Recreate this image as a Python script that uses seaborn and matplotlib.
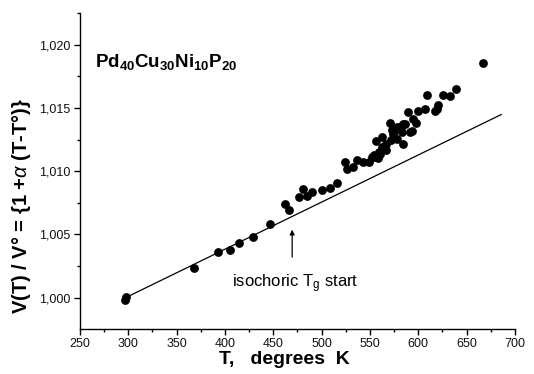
import matplotlib
matplotlib.use("Agg")
import matplotlib.pyplot as plt
import matplotlib.ticker as mticker
import seaborn as sns
import pandas as pd

T_vals = [296.5, 297.6, 368, 393, 404.8, 414, 429, 447, 462, 466, 477, 481, 485, 490,
          500, 508.5, 516, 524, 526, 532, 537, 543, 549, 552, 554, 555, 556, 558, 559,
          560, 562, 562, 564, 567, 567, 570.6, 572, 572.3, 574, 577.5, 577.5, 578, 581,
          582.6, 584, 584, 586, 589.5, 591.3, 593, 594.7, 598, 600, 606.8, 608.5, 617,
          619, 620.5, 625.7, 632.6, 638.8, 666.4]
V_vals = [0.99982, 1.00002, 1.00232, 1.00364, 1.00378, 1.0043, 1.0048, 1.0058, 1.00742,
          1.00695, 1.00794, 1.0086, 1.00808, 1.00834, 1.00848, 1.00869, 1.00908, 1.01072,
          1.0102, 1.0103, 1.01085, 1.01072, 1.01072, 1.01111, 1.01125, 1.01111, 1.01238,
          1.01106, 1.0115, 1.01138, 1.0127, 1.0119, 1.01178, 1.01217, 1.01164, 1.0138,
          1.01243, 1.01323, 1.01296, 1.01349, 1.01257, 1.01336, 1.01349, 1.01309, 1.01376,
          1.01217, 1.01376, 1.01468, 1.01309, 1.01317, 1.01415, 1.0138, 1.0148, 1.01494,
          1.01605, 1.0148, 1.01494, 1.0152, 1.01605, 1.01592, 1.01653, 1.01856]

line_T = [297, 686]
line_V = [1.0000, 1.01449]

x_ticks = [250, 300, 350, 400, 450, 500, 550, 600, 650, 700]
y_ticks = [1.000, 1.005, 1.010, 1.015, 1.020]

sns.set_style("ticks")
plt.rcParams['font.family'] = ['Liberation Sans', 'DejaVu Sans']
plt.rcParams['text.color'] = 'black'
plt.rcParams['axes.labelcolor'] = 'black'
plt.rcParams['mathtext.fontset'] = 'custom'
plt.rcParams['mathtext.rm'] = 'Liberation Sans'
plt.rcParams['mathtext.it'] = 'Liberation Sans:italic'
plt.rcParams['mathtext.bf'] = 'Liberation Sans:bold'

fig = plt.figure(figsize=(5.34, 3.74), dpi=100)
ax = fig.add_axes([0.1498, 0.121, 0.8146, 0.844])

pts = pd.DataFrame({"T": T_vals, "V": V_vals})
ln = pd.DataFrame({"T": line_T, "V": line_V})
sns.lineplot(data=ln, x="T", y="V", ax=ax, color="black", linewidth=0.9)
sns.scatterplot(data=pts, x="T", y="V", ax=ax, color="black", s=40, edgecolor="black",
                linewidth=0, zorder=3)

ax.set_xlim(250, 700)
ax.set_ylim(0.99755, 1.0225)
ax.set_xticks(x_ticks)
ax.set_yticks(y_ticks)
ax.xaxis.set_minor_locator(mticker.MultipleLocator(25))
ax.yaxis.set_minor_locator(mticker.MultipleLocator(0.0025))
ax.yaxis.set_major_formatter(mticker.FuncFormatter(lambda v, p: f"{v:.3f}".replace(".", ",")))
ax.tick_params(axis="both", which="major", direction="out", length=4, width=1, pad=3,
               labelsize=9, color="black", labelcolor="#111111")
ax.tick_params(axis="both", which="minor", direction="out", length=2.5, width=1, color="black")
sns.despine(ax=ax)
for s in ["left", "bottom"]:
    ax.spines[s].set_color("black")
    ax.spines[s].set_linewidth(1)

ax.set_xlabel("T,   degrees  K", fontsize=14, fontweight="bold", color="black")
ax.set_ylabel(r"V(T) / V° = {1 +$\alpha$ (T-T°)}", fontsize=14.5, fontweight="bold", color="black")
ax.xaxis.set_label_coords(0.469, -0.072)
ax.yaxis.set_label_coords(-0.108, 0.39)

ax.text(265.5, 1.01862, r"$\mathbf{Pd_{40}Cu_{30}Ni_{10}P_{20}}$", fontsize=13.5,
        va="center", ha="left", color="black")
ax.annotate("", xy=(469.5, 1.0056), xytext=(469.5, 1.0030),
            arrowprops=dict(arrowstyle="-|>", color="black", lw=0.9, mutation_scale=7))
ax.text(407, 1.0011, r"isochoric T$_\mathrm{g}$ start", fontsize=12, va="center", ha="left",
        color="black")

fig.savefig("out.png", dpi=100)
